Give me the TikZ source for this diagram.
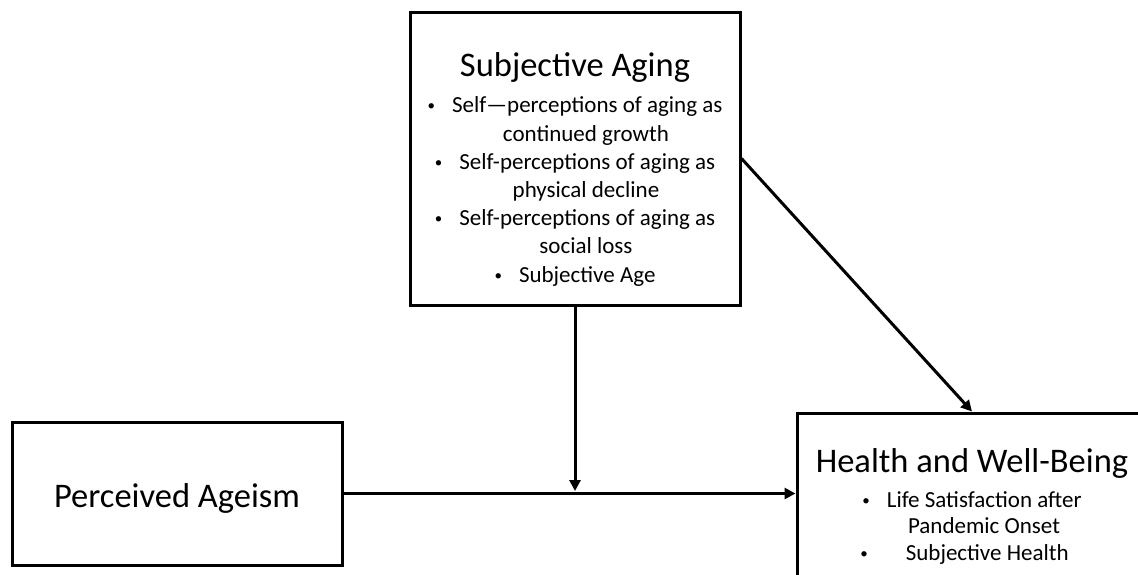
\documentclass[tikz,border=0pt]{standalone}
\usepackage{fontspec}
\setmainfont{Carlito}
\usetikzlibrary{arrows.meta,positioning}

\newcommand{\vineta}[1][17pt]{\raisebox{2pt}{\fontsize{15}{15}\selectfont\textbullet}\hspace{#1}}

\tikzset{
  caja/.style={draw, line width=3pt, minimum width=330pt},
  titulo/.style={font=\fontsize{34.5}{41}\selectfont, anchor=base, inner sep=0pt},
  lista/.style={font=\fontsize{23}{28.2}\selectfont, align=center, anchor=base, inner sep=0pt},
  flecha/.style={line width=3pt, -{Triangle[length=11pt,width=11pt]}},
}

\begin{document}
\begin{tikzpicture}[x=1pt,y=1pt]
    % Marco de la imagen
    \useasboundingbox (0,0) rectangle (1138,-574);
    \clip (0,0) rectangle (1138,-574);

    % Caja superior: envejecimiento subjetivo
    \node[caja, minimum height=293pt] (aging) at (575,-158.5) {};
    \node[titulo] (agingtitle) at (575,-76) {Subjective Aging};
    \node[lista] (aginglist) at (575,-282) {%
        \vineta Self—perceptions of aging as\\
        \hspace*{22pt}continued growth\\
        \vineta Self-perceptions of aging as\\
        \hspace*{22pt}physical decline\\
        \vineta Self-perceptions of aging as\\
        \hspace*{22pt}social loss\\
        \vineta Subjective Age};

    % Caja izquierda: edadismo percibido
    \node[caja, minimum height=143pt] (ageism) at (177,-493.5) {};
    \node[titulo] (ageismtitle) at (177,-507) {Perceived Ageism};

    % Caja derecha: salud y bienestar (cortada por el borde)
    \node[caja, minimum width=350pt, minimum height=180pt] (health) at (972,-503) {};
    \node[titulo] (healthtitle) at (972,-472) {Health and Well-Being};
    \node[lista, font=\fontsize{23}{26.5}\selectfont] (healthlist) at (972,-560) {%
        \vineta Life Satisfaction after\\
        \hspace*{24pt}Pandemic Onset\\
        \hspace*{-15pt}\vineta[38pt]Subjective Health};

    % Flechas
    \coordinate (cruce) at (574,-491);
    \draw[flecha] (ageism.east) -- (ageism.east -| health.west);
    \draw[flecha] (aging.south) -- (aging.south |- cruce);
    \draw[flecha] (aging.east) -- (health.north);

\end{tikzpicture}
\end{document}
